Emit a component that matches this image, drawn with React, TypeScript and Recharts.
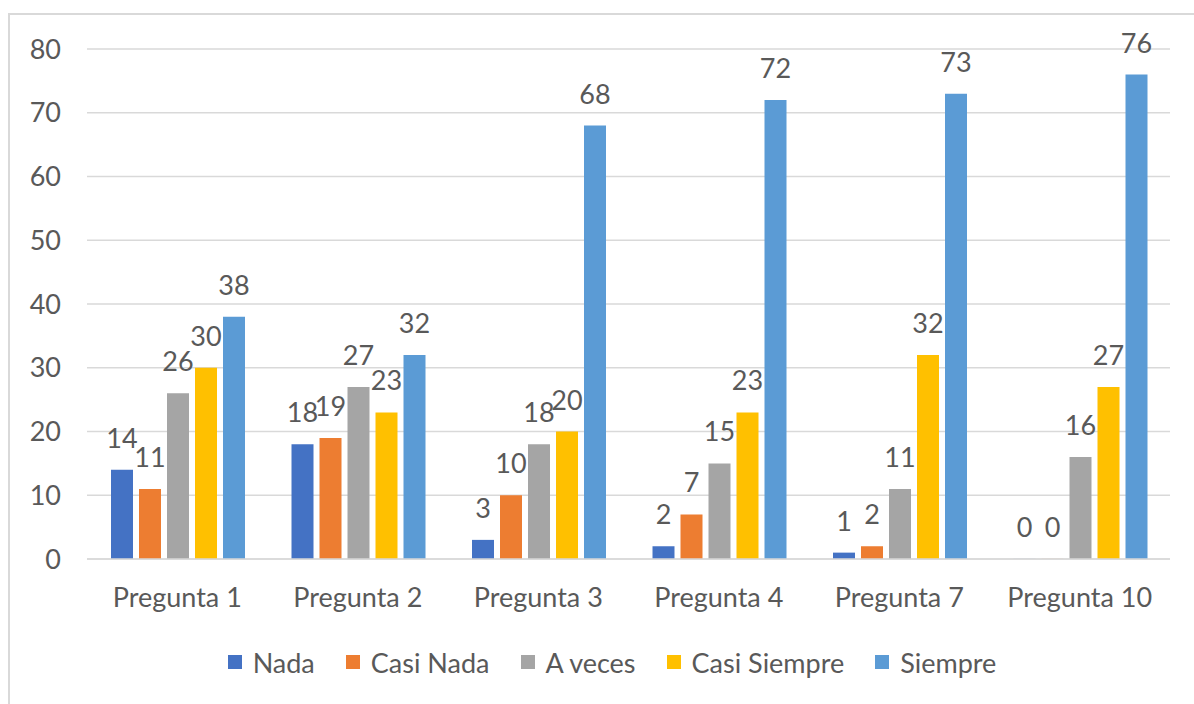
import React from "react";
import {
  BarChart,
  Bar,
  XAxis,
  YAxis,
  CartesianGrid,
  Legend,
  LabelList,
} from "recharts";

const categories = [
  "Pregunta 1",
  "Pregunta 2",
  "Pregunta 3",
  "Pregunta 4",
  "Pregunta 7",
  "Pregunta 10",
];
const nada = [14, 18, 3, 2, 1, 0];
const casiNada = [11, 19, 10, 7, 2, 0];
const aVeces = [26, 27, 18, 15, 11, 16];
const casiSiempre = [30, 23, 20, 23, 32, 27];
const siempre = [38, 32, 68, 72, 73, 76];
const yTicks = [0, 10, 20, 30, 40, 50, 60, 70, 80];

const series = [
  { key: "nada", name: "Nada", values: nada, color: "#4472C4" },
  { key: "casiNada", name: "Casi Nada", values: casiNada, color: "#ED7D31" },
  { key: "aVeces", name: "A veces", values: aVeces, color: "#A5A5A5" },
  { key: "casiSiempre", name: "Casi Siempre", values: casiSiempre, color: "#FFC000" },
  { key: "siempre", name: "Siempre", values: siempre, color: "#5B9BD5" },
];
const seriesOrder = series.map((s) => s.name);

const data = categories.map((name, i) => {
  const row: Record<string, string | number> = { name };
  series.forEach((s) => {
    row[s.key] = s.values[i];
  });
  return row;
});

const FONT = "Lato, 'Open Sans', sans-serif";
const TEXT = "#595959";

const renderLegend = (props: any) => {
  const payload = [...(props.payload || [])].sort(
    (a: any, b: any) => seriesOrder.indexOf(a.value) - seriesOrder.indexOf(b.value)
  );
  return (
    <div
      style={{
        height: 40,
        display: "flex",
        alignItems: "center",
        justifyContent: "center",
        paddingLeft: 54,
        fontFamily: FONT,
        fontSize: 27,
        color: TEXT,
      }}
    >
      {payload.map((item: any, i: number) => (
        <div
          key={i}
          style={{
            display: "flex",
            alignItems: "center",
            marginRight: i < payload.length - 1 ? 31 : 0,
          }}
        >
          <span
            style={{
              width: 14,
              height: 14,
              background: item.color,
              marginRight: 11,
              display: "inline-block",
            }}
          />
          <span>{item.value}</span>
        </div>
      ))}
    </div>
  );
};

const App: React.FC = () => {
  return (
    <div
      style={{
        position: "absolute",
        left: 0,
        top: 0,
        width: 1194,
        height: 704,
        background: "#fff",
        overflow: "hidden",
      }}
    >
      <div
        style={{
          position: "absolute",
          left: 8,
          top: 13,
          width: 1200,
          height: 700,
          borderTop: "2px solid #D9D9D9",
          borderLeft: "2px solid #D9D9D9",
        }}
      />
      <div style={{ position: "absolute", left: 0, top: 0 }}>
        <BarChart
          width={1194}
          height={704}
          data={data}
          margin={{ top: 49, right: 24, left: 0, bottom: 22 }}
          barCategoryGap={24}
          barGap={6}
        >
          <CartesianGrid vertical={false} stroke="#D9D9D9" strokeWidth={1.5} />
          <XAxis
            dataKey="name"
            height={83}
            axisLine={{ stroke: "#D9D9D9", strokeWidth: 1.5 }}
            tickLine={false}
            tickSize={0}
            tickMargin={29}
            tick={{ fill: TEXT, fontSize: 27, fontFamily: FONT }}
            interval={0}
          />
          <YAxis
            width={87}
            domain={[0, 80]}
            ticks={yTicks}
            axisLine={false}
            tickLine={false}
            tickSize={0}
            tickMargin={26}
            tick={{ fill: TEXT, fontSize: 27, fontFamily: FONT }}
          />
          <Legend verticalAlign="bottom" content={renderLegend} />
          {series.map((s) => (
            <Bar
              key={s.key}
              dataKey={s.key}
              name={s.name}
              fill={s.color}
              minPointSize={0.1}
              isAnimationActive={false}
            >
              <LabelList
                dataKey={s.key}
                position="top"
                offset={22}
                fill={TEXT}
                fontSize={27}
                fontFamily={FONT}
              />
            </Bar>
          ))}
        </BarChart>
      </div>
    </div>
  );
};

export default App;
